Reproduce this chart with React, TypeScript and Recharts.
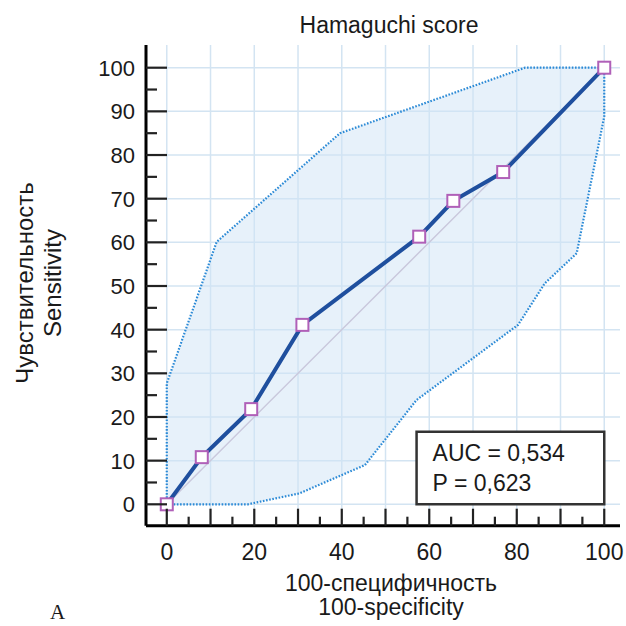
import React from 'react';
import {
  ComposedChart,
  Scatter,
  XAxis,
  YAxis,
  CartesianGrid,
  ReferenceLine,
  ReferenceArea,
} from 'recharts';

// ROC curve points (100-specificity, sensitivity)
const rocFpr = [0, 8, 19.3, 31, 57.7, 65.5, 76.9, 100];
const rocTpr = [0, 10.8, 21.8, 41.1, 61.3, 69.5, 76.1, 100];

// 95% confidence band outline, traced around the polygon
const bandX = [0, 0, 11.4, 39.6, 81.9, 100, 100, 93.7, 86.4, 80.3, 57.1, 45.3, 30.3, 18.5, 0];
const bandY = [0, 27.7, 60.1, 85.0, 100, 100, 88.8, 57.5, 50.6, 41.1, 23.9, 9.0, 2.5, 0, 0];

const axisTicks = [0, 5, 10, 15, 20, 25, 30, 35, 40, 45, 50, 55, 60, 65, 70, 75, 80, 85, 90, 95, 100];
const gridValues = [0, 10, 20, 30, 40, 50, 60, 70, 80, 90, 100];

const aucText = 'AUC = 0,534';
const pText = 'P = 0,623';

const rocData = rocFpr.map((x, i) => ({ x, y: rocTpr[i] }));
const bandData = bandX.map((x, i) => ({ x, y: bandY[i] }));

const FONT = '"Liberation Sans", Arial, Helvetica, sans-serif';
const INK = '#1a1a1a';

const YTick = (props: any) => {
  const { x, y, payload } = props;
  const v = payload.value;
  const major = v % 10 === 0;
  return (
    <g>
      <line x1={x} x2={x + (major ? 21 : 11)} y1={y} y2={y} stroke="#222" strokeWidth={2.2} />
      {major && (
        <text x={x - 11} y={y} dy={7.9} textAnchor="end" fontSize={22} fontFamily={FONT} fill={INK}>
          {v}
        </text>
      )}
    </g>
  );
};

const XTick = (props: any) => {
  const { x, y, payload } = props;
  const v = payload.value;
  const major = v % 10 === 0;
  return (
    <g>
      <line x1={x} x2={x} y1={y} y2={y - (major ? 17 : 9)} stroke="#222" strokeWidth={2.2} />
      {v % 20 === 0 && (
        <text x={x} y={y + 34} textAnchor="middle" fontSize={23} fontFamily={FONT} fill={INK}>
          {v}
        </text>
      )}
    </g>
  );
};

const RocMarker = (props: any) => {
  const { cx, cy } = props;
  if (cx == null || cy == null) return <g />;
  return (
    <rect
      x={cx - 6}
      y={cy - 6}
      width={12}
      height={12}
      fill="#ffffff"
      stroke="#b060b8"
      strokeWidth={2}
    />
  );
};

const NoMarker = () => <g />;

const StatsText = (props: any) => {
  const { x, y } = props.viewBox;
  return (
    <g fontFamily={FONT} fontSize={23} fill={INK}>
      <text x={x + 16} y={y + 29}>{aucText}</text>
      <text x={x + 16} y={y + 59}>{pText}</text>
    </g>
  );
};

export default function App() {
  return (
    <div style={{ position: 'absolute', left: 0, top: 0, width: 626, height: 626, background: '#fff' }}>
      <ComposedChart
        width={626}
        height={626}
        margin={{ top: 45, right: 6, left: 86, bottom: 60.3 }}
      >
        <CartesianGrid
          stroke="#d3e4f2"
          strokeWidth={1.5}
          horizontalValues={gridValues}
          verticalValues={gridValues}
        />
        <XAxis
          type="number"
          dataKey="x"
          domain={[-4.75, 103.6]}
          allowDataOverflow
          ticks={axisTicks}
          interval={0}
          tickSize={0}
          tickMargin={0}
          tickLine={false}
          axisLine={{ stroke: '#000', strokeWidth: 3 }}
          tick={<XTick />}
          height={40}
        />
        <YAxis
          type="number"
          dataKey="y"
          domain={[-4.9, 105.2]}
          allowDataOverflow
          ticks={axisTicks}
          interval={0}
          tickSize={0}
          tickMargin={0}
          tickLine={false}
          axisLine={{ stroke: '#000', strokeWidth: 3 }}
          tick={<YTick />}
          width={60}
        />
        <ReferenceLine
          segment={[{ x: 0, y: 0 }, { x: 100, y: 100 }]}
          stroke="#c4aec4"
          strokeWidth={1.5}
        />
        <ReferenceArea
          x1={57.1}
          x2={100}
          y1={0}
          y2={16.6}
          fill="#ffffff"
          fillOpacity={1}
          stroke="#333333"
          strokeWidth={2.5}
          label={<StatsText />}
        />
        {/* confidence band: filled polygon with dotted outline */}
        <Scatter
          data={bandData}
          dataKey="y"
          isAnimationActive={false}
          fill="#2b8ad6"
          shape={NoMarker}
          lineType="joint"
          line={{
            stroke: '#2b8ad6',
            strokeWidth: 2.2,
            strokeDasharray: '1.6 1.6',
            fill: '#cfe4f6',
            fillOpacity: 0.5,
          }}
        />
        {/* ROC curve with square markers */}
        <Scatter
          data={rocData}
          dataKey="y"
          isAnimationActive={false}
          fill="#1f4f9e"
          shape={RocMarker}
          lineType="joint"
          line={{ stroke: '#1f4f9e', strokeWidth: 4 }}
        />
      </ComposedChart>
      <svg
        width={626}
        height={626}
        style={{ position: 'absolute', left: 0, top: 0, pointerEvents: 'none' }}
      >
        <g fontFamily={FONT} fill={INK}>
          <text x={389} y={33} textAnchor="middle" fontSize={23}>
            Hamaguchi score
          </text>
          <text x={33} y={283} textAnchor="middle" fontSize={24} transform="rotate(-90 33 283)">
            Чувствительность
          </text>
          <text x={61} y={283} textAnchor="middle" fontSize={24} transform="rotate(-90 61 283)">
            Sensitivity
          </text>
          <text x={391} y={591} textAnchor="middle" fontSize={23}>
            100-специфичность
          </text>
          <text x={391} y={615} textAnchor="middle" fontSize={23}>
            100-specificity
          </text>
        </g>
        <text x={50} y={619} fontFamily='"Liberation Serif", "Times New Roman", serif' fontSize={21} fill={INK}>
          A
        </text>
      </svg>
    </div>
  );
}
